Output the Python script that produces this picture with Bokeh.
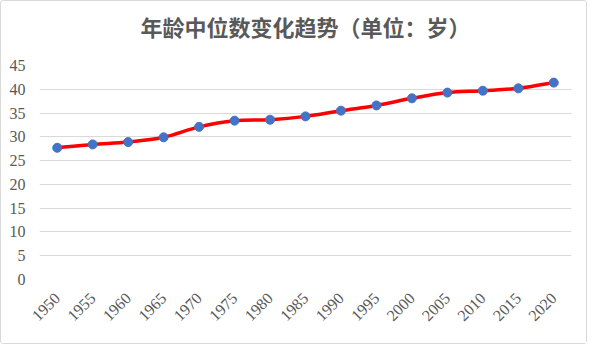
import numpy as np
from bokeh.plotting import figure
from bokeh.models import Range1d, FixedTicker, ColumnDataSource, Title
from bokeh.embed import file_html
from bokeh.resources import INLINE

years = ["1950", "1955", "1960", "1965", "1970", "1975", "1980", "1985",
         "1990", "1995", "2000", "2005", "2010", "2015", "2020"]
median_age = [27.7, 28.4, 28.9, 29.9, 32.1, 33.4, 33.6, 34.3,
              35.5, 36.6, 38.1, 39.3, 39.7, 40.2, 41.4]
y_ticks = [0, 5, 10, 15, 20, 25, 30, 35, 40, 45]
title_text = "年龄中位数变化趋势（单位：岁）"

xs = list(range(len(years)))

p = figure(width=587, height=344, output_backend="svg", toolbar_location=None,
           x_range=Range1d(-0.5, len(years) - 0.5), y_range=Range1d(0, 45),
           min_border_left=38, min_border_right=17, min_border_top=64,
           min_border_bottom=66)
p.styles = {"border": "1px solid #d9d9d9", "border-radius": "3px"}

# spacer first (closest to the frame), then the visible title above it
p.add_layout(Title(text=" ", text_font_size="12px", standoff=3), "above")
p.add_layout(Title(text=title_text, align="center", text_font="Noto Sans CJK SC",
                   text_font_size="22px", text_font_style="bold",
                   text_color="#595959"), "above")

p.outline_line_color = None
p.background_fill_color = "white"
p.border_fill_color = "white"

p.xgrid.grid_line_color = None
p.ygrid.grid_line_color = "#d9d9d9"
p.ygrid.grid_line_width = 1
p.yaxis.ticker = FixedTicker(ticks=y_ticks)
p.xaxis.ticker = FixedTicker(ticks=xs)
p.xaxis.major_label_overrides = {i: y for i, y in enumerate(years)}
p.xaxis.major_label_orientation = np.pi / 4

for ax in (p.xaxis, p.yaxis):
    ax.axis_line_color = None
    ax.major_tick_line_color = None
    ax.minor_tick_line_color = None
    ax.major_label_text_font = "Liberation Serif"
    ax.major_label_text_font_size = "16px"
    ax.major_label_text_color = "#595959"
p.yaxis.major_label_standoff = 8
p.xaxis.major_label_standoff = 10

# smoothed line (Catmull-Rom style bezier between consecutive data points)
n = len(xs)
x0, y0, x1, y1, cx0, cy0, cx1, cy1 = [], [], [], [], [], [], [], []
for i in range(n - 1):
    xa, ya = xs[i], median_age[i]
    xb, yb = xs[i + 1], median_age[i + 1]
    xp, yp = (xs[i - 1], median_age[i - 1]) if i > 0 else (xa, ya)
    xn, yn = (xs[i + 2], median_age[i + 2]) if i + 2 < n else (xb, yb)
    x0.append(xa); y0.append(ya); x1.append(xb); y1.append(yb)
    cx0.append(xa + (xb - xp) / 6); cy0.append(ya + (yb - yp) / 6)
    cx1.append(xb - (xn - xa) / 6); cy1.append(yb - (yn - ya) / 6)

src = ColumnDataSource(dict(x0=x0, y0=y0, x1=x1, y1=y1, cx0=cx0, cy0=cy0, cx1=cx1, cy1=cy1))
p.bezier(x0="x0", y0="y0", x1="x1", y1="y1", cx0="cx0", cy0="cy0", cx1="cx1", cy1="cy1",
         source=src, line_color="#ff0000", line_width=3.5)
p.scatter(xs, median_age, size=9, fill_color="#4472c4", line_color="#4472c4")

open("out.html", "w").write(file_html(p, INLINE))
